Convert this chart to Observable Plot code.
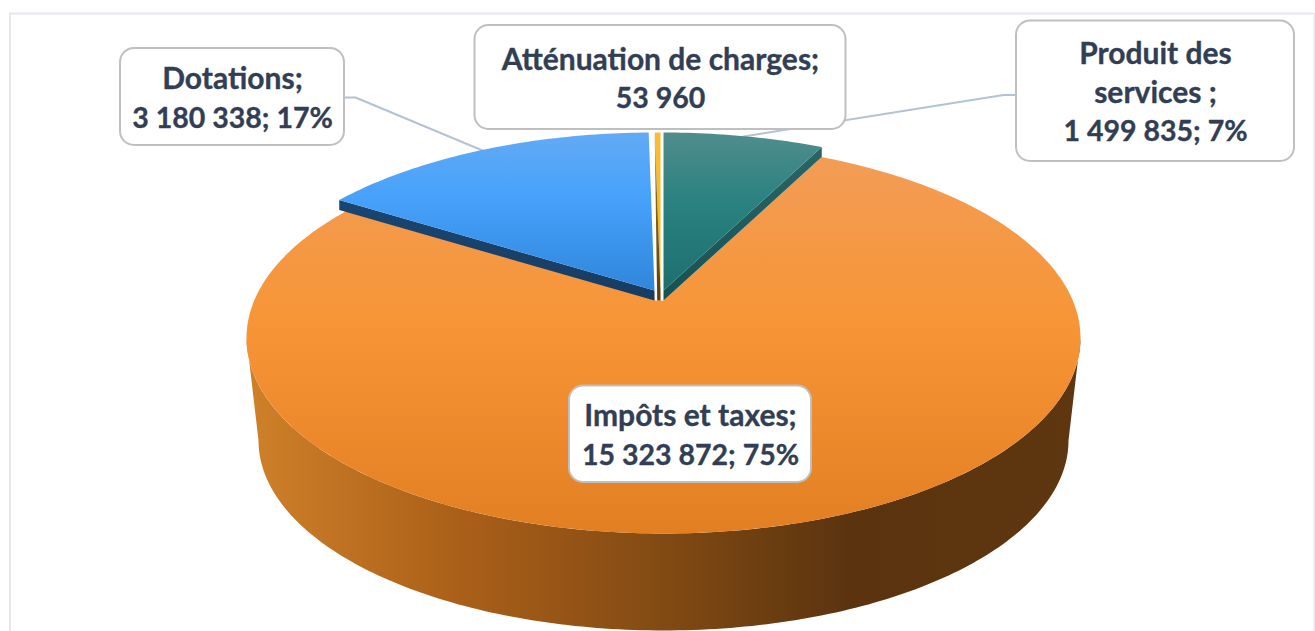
<!DOCTYPE html>
<html>
<head>
<meta charset="utf-8">
<script src="https://cdn.jsdelivr.net/npm/d3@7"></script>
<script src="https://cdn.jsdelivr.net/npm/@observablehq/plot@0.6"></script>
<style>html,body{margin:0;padding:0;background:#fff;overflow:hidden}svg{display:block}</style>
</head>
<body>
<div id="chart"></div>
<script>
// Data, clockwise from 12 o'clock
const categories = ["Produit des services", "Impôts et taxes", "Dotations", "Atténuation de charges"];
const values = [1499835, 15323872, 3180338, 53960];
const labelLines = [
  ["Produit des", "services ;", "1 499 835; 7%"],
  ["Impôts et taxes;", "15 323 872; 75%"],
  ["Dotations;", "3 180 338; 17%"],
  ["Atténuation de charges;", "53 960"]
];

// Label box layout
const boxX1 = [1016, 569, 120, 474.5];
const boxX2 = [1294, 811, 344, 845.5];
const boxY1 = [20.5, 385.5, 48, 25];
const boxY2 = [161, 482, 145, 129];

// Pie view geometry (3D perspective)
const W = 1315, H = 631;
const cx = 663, rimW = 417;
const topFar = 142, topTip = 300, topNear = 533;       // top face
const baseFar = 250, baseTip = 409.5, baseNear = 630, baseW = 405; // base outline
const lift = 10;                                       // raised back wedges

// Y(v) = (a v + tip) / (k v + 1), through far (v=1) and near (v=-1)
const slant = (far, tip, near) => (2 * tip - far - near) / (far - near);
function disk(far, tip, near, halfW) {
  const k = slant(far, tip, near);
  const a = far * (k + 1) - tip;
  const R = halfW * Math.sqrt(1 - k * k);
  return (t, dx = 0, dy = 0) => {
    const u = Math.sin(t), v = Math.cos(t), w = k * v + 1;
    return {x: cx + dx + R * u / w, y: (a * v + tip) / w + dy};
  };
}
const topFace = disk(topFar, topTip, topNear, rimW);
const baseFace = disk(baseFar, baseTip, baseNear, baseW);

const arcs = [];
{
  const total = d3.sum(values);
  let a = 0;
  for (const v of values) { const b = a + v / total * 2 * Math.PI; arcs.push([a, b]); a = b; }
}
const DEG = Math.PI / 180;
function sector(a0, a1, dx = 0, dy = 0) {
  const n = Math.max(2, Math.ceil((a1 - a0) / DEG));
  const pts = [{x: cx + dx, y: topTip + dy}];
  for (let i = 0; i <= n; i++) pts.push(topFace(a0 + (a1 - a0) * i / n, dx, dy));
  return pts;
}
function cutFace(t, dx, dy, depth) {
  const p = topFace(t, dx, dy);
  const q = {x: cx + dx, y: topTip + dy};
  return [p, q, {x: q.x, y: q.y + depth}, {x: p.x, y: p.y + depth}];
}
// outer wall: lower half of the top rim and the base outline
function wallPoints() {
  const pts = [];
  const extTop = Math.acos(-slant(topFar, topTip, topNear));
  const extBase = Math.acos(-slant(baseFar, baseTip, baseNear));
  for (let i = 0; i <= 180; i++) pts.push(topFace(extTop + (2 * Math.PI - 2 * extTop) * i / 180));
  for (let i = 180; i >= 0; i--) pts.push(baseFace(extBase + (2 * Math.PI - 2 * extBase) * i / 180));
  return pts;
}

const [aTeal, aOrange, aBlue, aGold] = arcs;
const shiftBlue = -9, shiftGold = -3;

const gradient = (id, attrs, stops) => {
  const g = d3.create("svg:linearGradient").attr("id", id).attr("gradientUnits", "userSpaceOnUse");
  for (const k in attrs) g.attr(k, attrs[k]);
  for (const [o, c] of stops) g.append("stop").attr("offset", o).attr("stop-color", c);
  return g.node();
};
const defs = () => {
  const d = d3.create("svg:defs");
  const add = n => d.node().appendChild(n);
  add(gradient("gOrange", {x1:0,y1:142,x2:0,y2:533}, [[0,"#f29d58"],[0.45,"#f79537"],[1,"#e27f22"]]));
  add(gradient("gWall", {x1:246,y1:0,x2:1080,y2:0}, [[0,"#cf8129"],[0.25,"#ab6019"],[0.5,"#824a13"],[0.72,"#5b340f"],[1,"#5e3710"]]));
  add(gradient("gBlue", {x1:0,y1:132,x2:0,y2:292}, [[0,"#63aaf5"],[0.4,"#47a2fb"],[1,"#2f86da"]]));
  add(gradient("gTeal", {x1:0,y1:132,x2:0,y2:292}, [[0,"#508d8d"],[0.45,"#298180"],[1,"#1e6f6e"]]));
  add(gradient("gGold", {x1:0,y1:132,x2:0,y2:292}, [[0,"#fbbb36"],[1,"#f9b912"]]));
  add(gradient("gGoldCut", {x1:0,y1:132,x2:0,y2:300}, [[0,"#a77c1c"],[1,"#5a400f"]]));
  add(gradient("gTealCut", {x1:0,y1:150,x2:0,y2:300}, [[0,"#2a6566"],[1,"#155253"]]));
  add(gradient("gBlueCut", {x1:0,y1:132,x2:0,y2:300}, [[0,"#1c4c7c"],[1,"#173c62"]]));
  return d.node();
};

const poly = (pts, fill) => Plot.line(pts, {x: "x", y: "y", fill, stroke: "none", strokeWidth: 0});

const boxes = labelLines.map((lines, i) => ({
  x1: boxX1[i], x2: boxX2[i], y1: boxY1[i], y2: boxY2[i]
}));
const lineStep = 39;
const textRows = labelLines.flatMap((lines, i) => lines.map((text, j) => ({
  text,
  mx: (boxX1[i] + boxX2[i]) / 2,
  my: (boxY1[i] + boxY2[i]) / 2 + (j - (lines.length - 1) / 2) * lineStep + 2,
  size: /^[\d ;%]+$/.test(text) ? 28.5 : 30
})));

// leader lines
const leaderDot = [{x: 344, y: 97}, {x: 355, y: 97}, {x: 482, y: 150}];
const leaderProd = [{x: 1016, y: 94.5}, {x: 1003, y: 94.5}, {x: 743, y: 136}];

const whiteGap = [topFace(aBlue[1] - 0.001, shiftBlue, -lift), topFace(aGold[1], 0, -lift), {x: cx, y: topTip}, {x: cx + shiftBlue, y: topTip}];
const goldTip = {x: cx + shiftGold, y: topTip - lift};
const goldCut = [topFace(aGold[0], shiftGold, -lift), goldTip, {x: goldTip.x, y: topTip}, {x: goldTip.x - 3.3, y: topTip}];

const chart = Plot.plot({
  width: W, height: H, margin: 0,
  x: {domain: [0, W], range: [0, W], axis: null},
  y: {domain: [0, H], range: [0, H], axis: null},
  style: {background: "#fff"},
  marks: [
    defs,
    Plot.ruleX([9.5], {y1: 13, y2: H, stroke: "#e3e8f0", strokeWidth: 2}),
    Plot.ruleX([1314], {y1: 13, y2: H, stroke: "#e3e8f0", strokeWidth: 2}),
    Plot.ruleY([13], {x1: 9.5, x2: 1314, stroke: "#e3e8f0", strokeWidth: 2}),
    poly(wallPoints(), "url(#gWall)"),
    poly(sector(aOrange[0], aOrange[1]), "url(#gOrange)"),
    Plot.line(leaderDot, {x: "x", y: "y", stroke: "#b4c2d4", strokeWidth: 2}),
    Plot.line(leaderProd, {x: "x", y: "y", stroke: "#b4c2d4", strokeWidth: 2}),
    poly(whiteGap, "#fff"),
    poly(cutFace(aBlue[0], shiftBlue, -lift, lift), "url(#gBlueCut)"),
    poly(sector(aBlue[0], aBlue[1], shiftBlue, -lift), "url(#gBlue)"),
    poly(cutFace(aTeal[1], 0, -lift, lift), "url(#gTealCut)"),
    poly(sector(aTeal[0], aTeal[1], 0, -lift), "url(#gTeal)"),
    poly(sector(aGold[0], aGold[1], shiftGold, -lift), "url(#gGold)"),
    poly(goldCut, "url(#gGoldCut)"),
    Plot.rect(boxes, {x1: "x1", x2: "x2", y1: "y1", y2: "y2", rx: 14, fill: "#fff", stroke: "#bfbfbf", strokeWidth: 2}),
    Plot.text(textRows, {x: "mx", y: "my", text: "text", fontSize: "size", fontWeight: "bold", fontFamily: "Lato", fill: "#313e54", stroke: "#313e54", strokeWidth: 0.35})
  ]
});
document.getElementById("chart").appendChild(chart);
</script>
</body>
</html>
